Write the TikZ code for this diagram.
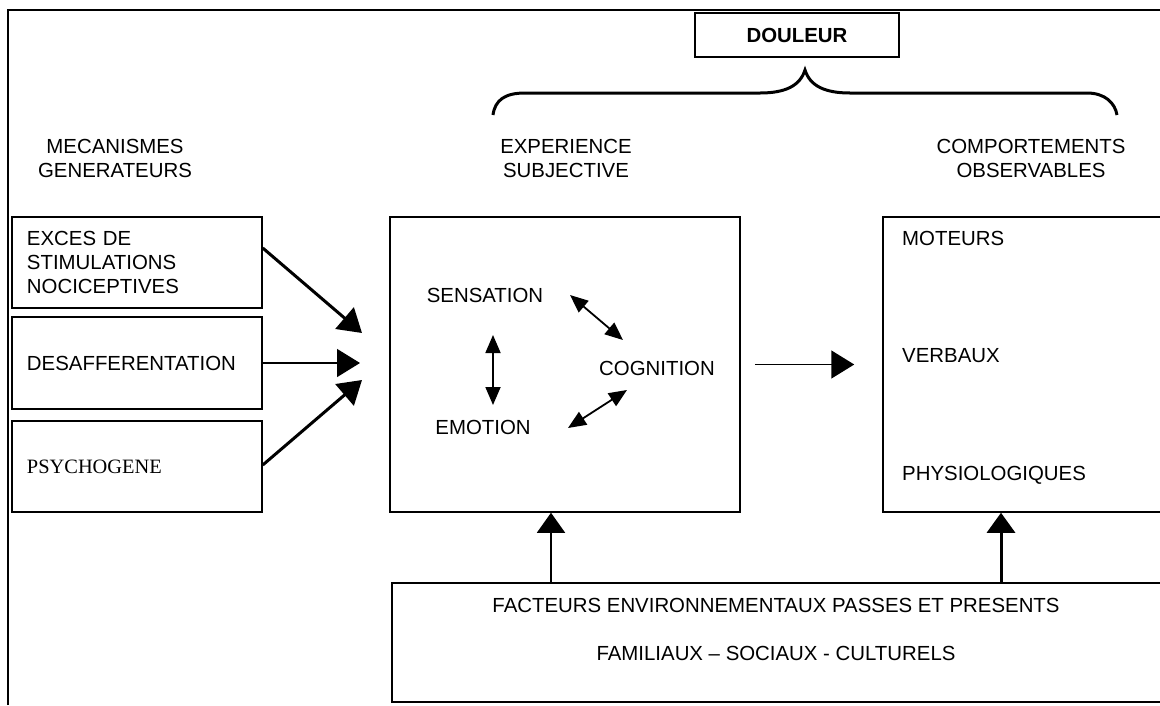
\documentclass[tikz,border=0pt]{standalone}
\usepackage{fontspec}
\setmainfont{Liberation Sans}
\newfontfamily\timesfont{Liberation Serif}
\usetikzlibrary{arrows.meta,calc}
\tikzset{
  txt/.style={font=\fontsize{20.4}{24}\selectfont, inner sep=0pt},
  boxed/.style={draw, line width=1.5pt, inner sep=0pt},
  bigarrow/.style={-{Triangle[length=23pt,width=28pt]}},
  dblarrow/.style={{Triangle[length=18pt,width=15pt]}-{Triangle[length=18pt,width=15pt]}, line width=1.8pt},
}
\begin{document}
\begin{tikzpicture}[x=1pt,y=-1pt]
\useasboundingbox (0,0) rectangle (1160,705);
\clip (0,0) rectangle (1160,705);
% outer frame
\draw[line width=2pt] (8,705) -- (8,10) -- (1170,10);
% DOULEUR
\node[boxed, txt, font=\fontsize{20.4}{24}\selectfont\bfseries, minimum width=204pt, minimum height=44pt] (dou) at (797,35) {DOULEUR};
% brace
\draw[line width=3pt] (493,115) .. controls (495,100) and (505,93) .. (525,93) -- (760,93)
  .. controls (785,93) and (800,86) .. (805,70)
  .. controls (810,86) and (825,93) .. (850,93) -- (1087,93)
  .. controls (1105,93) and (1115,103) .. (1117,115);
% headers
\node[txt, align=center] (h1) at (115,158) {MECANISMES\\GENERATEURS};
\node[txt, align=center] (h2) at (566,158) {EXPERIENCE\\SUBJECTIVE};
\node[txt, align=center] (h3) at (1031,158) {COMPORTEMENTS\\OBSERVABLES};
% left boxes
\node[boxed, txt, minimum width=250pt, minimum height=91pt, text width=220pt, inner xsep=15pt, align=left] (b1) at (137,262.5) {EXCES DE\\STIMULATIONS\\NOCICEPTIVES};
\node[boxed, txt, minimum width=250pt, minimum height=92pt, text width=220pt, inner xsep=15pt, align=left] (b2) at (137,363) {DESAFFERENTATION};
\node[boxed, txt, font=\fontsize{20.4}{24}\selectfont\timesfont, minimum width=250pt, minimum height=91pt, text width=220pt, inner xsep=15pt, align=left] (b3) at (137,466.5) {PSYCHOGENE};
% centre box
\node[boxed, minimum width=350pt, minimum height=295pt] (cbox) at (565,364.5) {};
\node[txt] (sens) at (485,295) {SENSATION};
\node[txt] (cogn) at (657,368) {COGNITION};
\node[txt] (emo) at (483,427) {EMOTION};
% right box
\node[boxed, minimum width=317pt, minimum height=295pt] (rbox) at (1041.5,364.5) {};
\node[txt, anchor=west] (mot) at (902,238) {MOTEURS};
\node[txt, anchor=west] (ver) at (902,356) {VERBAUX};
\node[txt, anchor=west] (phy) at (902,475) {PHYSIOLOGIQUES};
% bottom box
\node[boxed, minimum width=808pt, minimum height=119pt] (bbox) at (796,642.5) {};
\node[txt] (fac) at (776,605) {FACTEURS ENVIRONNEMENTAUX PASSES ET PRESENTS};
\node[txt] (fam) at (776,653) {FAMILIAUX – SOCIAUX - CULTURELS};
% arrow targets
\coordinate (t1) at (362,333);
\coordinate (t2) at (360,363);
\coordinate (t3) at (362,380);
\coordinate (u1) at (551,0);
\coordinate (u2) at (1001,0);
% arrows from left boxes
\draw[bigarrow, line width=3pt] ([shift={(0,-14.5)}]b1.east) -- (t1);
\draw[bigarrow, line width=1.5pt] (b2.east) -- (t2);
\draw[bigarrow, line width=3pt] ([shift={(0,-1.5)}]b3.east) -- (t3);
% centre to right
\draw[bigarrow, line width=1.5pt] ([shift={(14,0)}]cbox.east) -- ([shift={(-28,0)}]rbox.west);
% up arrows
\draw[-{Triangle[length=20pt,width=28pt]}, line width=1.6pt] (bbox.north -| u1) -- (cbox.south -| u1);
\draw[-{Triangle[length=20pt,width=28pt]}, line width=3pt] (bbox.north -| u2) -- (rbox.south -| u2);
% inner double arrows
\draw[dblarrow] ([shift={(85,0)}]sens.center) -- ([shift={(-34,-28)}]cogn.center);
\draw[dblarrow] ([shift={(8,40)}]sens.center) -- ([shift={(10,-22)}]emo.center);
\draw[dblarrow] ([shift={(85,1)}]emo.center) -- ([shift={(-30,22)}]cogn.center);
\end{tikzpicture}
\end{document}
